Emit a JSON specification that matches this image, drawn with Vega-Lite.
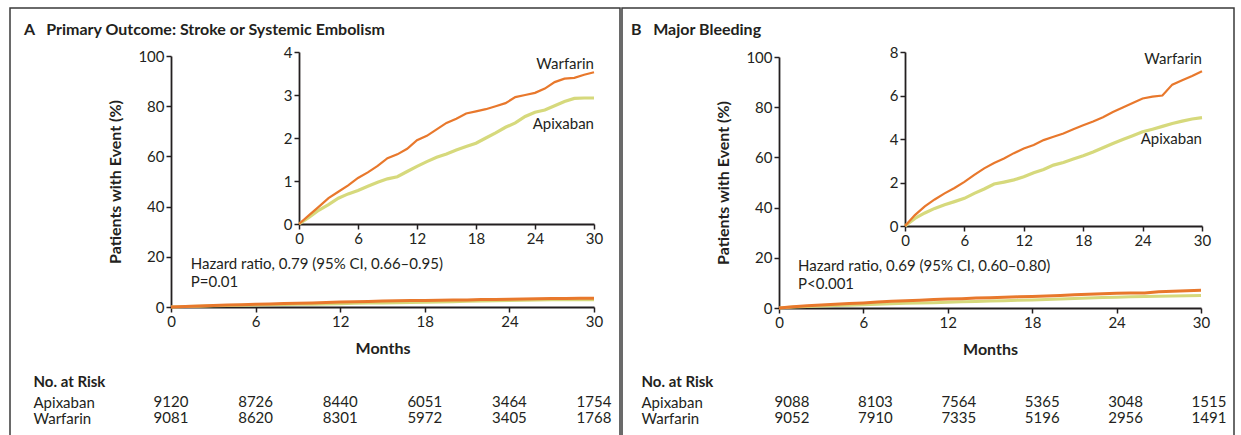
{
  "$schema": "https://vega.github.io/schema/vega-lite/v6.json",
  "background": "white",
  "padding": {"left": 9, "top": 7, "right": 0, "bottom": 0},
  "spacing": 0,
  "config": {
    "view": {"stroke": "#3a3a3a", "strokeWidth": 1.5},
    "font": "Lato",
    "axis": {
      "grid": false,
      "labelFont": "Lato",
      "labelFontSize": 15,
      "labelColor": "#231f20",
      "titleFont": "Lato",
      "titleFontSize": 16,
      "titleFontWeight": "bold",
      "titleColor": "#231f20",
      "domainColor": "#231f20",
      "domainWidth": 1.8,
      "tickColor": "#231f20",
      "tickWidth": 1.5,
      "tickSize": 5,
      "labelPadding": 2,
      "labelFlush": false,
      "labelOverlap": false
    },
    "text": {"font": "Lato", "fontSize": 15, "color": "#231f20"}
  },
  "datasets": {
    "curves": [
      {"panel":"A","arm":"Apixaban","month":0,"pct":0},{"panel":"A","arm":"Apixaban","month":1,"pct":0.15},{"panel":"A","arm":"Apixaban","month":2,"pct":0.32},{"panel":"A","arm":"Apixaban","month":3,"pct":0.45},{"panel":"A","arm":"Apixaban","month":4,"pct":0.6},{"panel":"A","arm":"Apixaban","month":5,"pct":0.7},{"panel":"A","arm":"Apixaban","month":6,"pct":0.78},{"panel":"A","arm":"Apixaban","month":7,"pct":0.88},{"panel":"A","arm":"Apixaban","month":8,"pct":0.97},{"panel":"A","arm":"Apixaban","month":9,"pct":1.05},{"panel":"A","arm":"Apixaban","month":10,"pct":1.1},{"panel":"A","arm":"Apixaban","month":11,"pct":1.22},{"panel":"A","arm":"Apixaban","month":12,"pct":1.34},{"panel":"A","arm":"Apixaban","month":13,"pct":1.45},{"panel":"A","arm":"Apixaban","month":14,"pct":1.55},{"panel":"A","arm":"Apixaban","month":15,"pct":1.63},{"panel":"A","arm":"Apixaban","month":16,"pct":1.72},{"panel":"A","arm":"Apixaban","month":17,"pct":1.8},{"panel":"A","arm":"Apixaban","month":18,"pct":1.88},{"panel":"A","arm":"Apixaban","month":19,"pct":2.0},{"panel":"A","arm":"Apixaban","month":20,"pct":2.12},{"panel":"A","arm":"Apixaban","month":21,"pct":2.25},{"panel":"A","arm":"Apixaban","month":22,"pct":2.35},{"panel":"A","arm":"Apixaban","month":23,"pct":2.5},{"panel":"A","arm":"Apixaban","month":24,"pct":2.6},{"panel":"A","arm":"Apixaban","month":25,"pct":2.65},{"panel":"A","arm":"Apixaban","month":26,"pct":2.75},{"panel":"A","arm":"Apixaban","month":27,"pct":2.85},{"panel":"A","arm":"Apixaban","month":28,"pct":2.92},{"panel":"A","arm":"Apixaban","month":29,"pct":2.93},{"panel":"A","arm":"Apixaban","month":30,"pct":2.93},
      {"panel":"A","arm":"Warfarin","month":0,"pct":0},{"panel":"A","arm":"Warfarin","month":1,"pct":0.2},{"panel":"A","arm":"Warfarin","month":2,"pct":0.4},{"panel":"A","arm":"Warfarin","month":3,"pct":0.6},{"panel":"A","arm":"Warfarin","month":4,"pct":0.75},{"panel":"A","arm":"Warfarin","month":5,"pct":0.9},{"panel":"A","arm":"Warfarin","month":6,"pct":1.07},{"panel":"A","arm":"Warfarin","month":7,"pct":1.2},{"panel":"A","arm":"Warfarin","month":8,"pct":1.35},{"panel":"A","arm":"Warfarin","month":9,"pct":1.53},{"panel":"A","arm":"Warfarin","month":10,"pct":1.62},{"panel":"A","arm":"Warfarin","month":11,"pct":1.75},{"panel":"A","arm":"Warfarin","month":12,"pct":1.95},{"panel":"A","arm":"Warfarin","month":13,"pct":2.05},{"panel":"A","arm":"Warfarin","month":14,"pct":2.2},{"panel":"A","arm":"Warfarin","month":15,"pct":2.35},{"panel":"A","arm":"Warfarin","month":16,"pct":2.45},{"panel":"A","arm":"Warfarin","month":17,"pct":2.57},{"panel":"A","arm":"Warfarin","month":18,"pct":2.62},{"panel":"A","arm":"Warfarin","month":19,"pct":2.67},{"panel":"A","arm":"Warfarin","month":20,"pct":2.74},{"panel":"A","arm":"Warfarin","month":21,"pct":2.81},{"panel":"A","arm":"Warfarin","month":22,"pct":2.95},{"panel":"A","arm":"Warfarin","month":23,"pct":3.0},{"panel":"A","arm":"Warfarin","month":24,"pct":3.05},{"panel":"A","arm":"Warfarin","month":25,"pct":3.15},{"panel":"A","arm":"Warfarin","month":26,"pct":3.3},{"panel":"A","arm":"Warfarin","month":27,"pct":3.38},{"panel":"A","arm":"Warfarin","month":28,"pct":3.4},{"panel":"A","arm":"Warfarin","month":29,"pct":3.47},{"panel":"A","arm":"Warfarin","month":30,"pct":3.53},
      {"panel":"B","arm":"Apixaban","month":0,"pct":0},{"panel":"B","arm":"Apixaban","month":1,"pct":0.35},{"panel":"B","arm":"Apixaban","month":2,"pct":0.6},{"panel":"B","arm":"Apixaban","month":3,"pct":0.81},{"panel":"B","arm":"Apixaban","month":4,"pct":0.98},{"panel":"B","arm":"Apixaban","month":5,"pct":1.12},{"panel":"B","arm":"Apixaban","month":6,"pct":1.27},{"panel":"B","arm":"Apixaban","month":7,"pct":1.5},{"panel":"B","arm":"Apixaban","month":8,"pct":1.7},{"panel":"B","arm":"Apixaban","month":9,"pct":1.93},{"panel":"B","arm":"Apixaban","month":10,"pct":2.02},{"panel":"B","arm":"Apixaban","month":11,"pct":2.12},{"panel":"B","arm":"Apixaban","month":12,"pct":2.26},{"panel":"B","arm":"Apixaban","month":13,"pct":2.45},{"panel":"B","arm":"Apixaban","month":14,"pct":2.6},{"panel":"B","arm":"Apixaban","month":15,"pct":2.8},{"panel":"B","arm":"Apixaban","month":16,"pct":2.92},{"panel":"B","arm":"Apixaban","month":17,"pct":3.08},{"panel":"B","arm":"Apixaban","month":18,"pct":3.23},{"panel":"B","arm":"Apixaban","month":19,"pct":3.4},{"panel":"B","arm":"Apixaban","month":20,"pct":3.6},{"panel":"B","arm":"Apixaban","month":21,"pct":3.79},{"panel":"B","arm":"Apixaban","month":22,"pct":3.98},{"panel":"B","arm":"Apixaban","month":23,"pct":4.15},{"panel":"B","arm":"Apixaban","month":24,"pct":4.33},{"panel":"B","arm":"Apixaban","month":25,"pct":4.45},{"panel":"B","arm":"Apixaban","month":26,"pct":4.58},{"panel":"B","arm":"Apixaban","month":27,"pct":4.71},{"panel":"B","arm":"Apixaban","month":28,"pct":4.82},{"panel":"B","arm":"Apixaban","month":29,"pct":4.92},{"panel":"B","arm":"Apixaban","month":30,"pct":4.98},
      {"panel":"B","arm":"Warfarin","month":0,"pct":0},{"panel":"B","arm":"Warfarin","month":1,"pct":0.5},{"panel":"B","arm":"Warfarin","month":2,"pct":0.9},{"panel":"B","arm":"Warfarin","month":3,"pct":1.22},{"panel":"B","arm":"Warfarin","month":4,"pct":1.5},{"panel":"B","arm":"Warfarin","month":5,"pct":1.75},{"panel":"B","arm":"Warfarin","month":6,"pct":2.03},{"panel":"B","arm":"Warfarin","month":7,"pct":2.35},{"panel":"B","arm":"Warfarin","month":8,"pct":2.65},{"panel":"B","arm":"Warfarin","month":9,"pct":2.9},{"panel":"B","arm":"Warfarin","month":10,"pct":3.1},{"panel":"B","arm":"Warfarin","month":11,"pct":3.35},{"panel":"B","arm":"Warfarin","month":12,"pct":3.56},{"panel":"B","arm":"Warfarin","month":13,"pct":3.72},{"panel":"B","arm":"Warfarin","month":14,"pct":3.95},{"panel":"B","arm":"Warfarin","month":15,"pct":4.1},{"panel":"B","arm":"Warfarin","month":16,"pct":4.25},{"panel":"B","arm":"Warfarin","month":17,"pct":4.45},{"panel":"B","arm":"Warfarin","month":18,"pct":4.63},{"panel":"B","arm":"Warfarin","month":19,"pct":4.8},{"panel":"B","arm":"Warfarin","month":20,"pct":5.0},{"panel":"B","arm":"Warfarin","month":21,"pct":5.24},{"panel":"B","arm":"Warfarin","month":22,"pct":5.45},{"panel":"B","arm":"Warfarin","month":23,"pct":5.65},{"panel":"B","arm":"Warfarin","month":24,"pct":5.86},{"panel":"B","arm":"Warfarin","month":25,"pct":5.95},{"panel":"B","arm":"Warfarin","month":26,"pct":6.0},{"panel":"B","arm":"Warfarin","month":27,"pct":6.5},{"panel":"B","arm":"Warfarin","month":28,"pct":6.7},{"panel":"B","arm":"Warfarin","month":29,"pct":6.9},{"panel":"B","arm":"Warfarin","month":30,"pct":7.12}
    ],
    "risk": [
      {"panel":"A","arm":"Apixaban","month":0,"n":"9120"},{"panel":"A","arm":"Apixaban","month":6,"n":"8726"},{"panel":"A","arm":"Apixaban","month":12,"n":"8440"},{"panel":"A","arm":"Apixaban","month":18,"n":"6051"},{"panel":"A","arm":"Apixaban","month":24,"n":"3464"},{"panel":"A","arm":"Apixaban","month":30,"n":"1754"},
      {"panel":"A","arm":"Warfarin","month":0,"n":"9081"},{"panel":"A","arm":"Warfarin","month":6,"n":"8620"},{"panel":"A","arm":"Warfarin","month":12,"n":"8301"},{"panel":"A","arm":"Warfarin","month":18,"n":"5972"},{"panel":"A","arm":"Warfarin","month":24,"n":"3405"},{"panel":"A","arm":"Warfarin","month":30,"n":"1768"},
      {"panel":"B","arm":"Apixaban","month":0,"n":"9088"},{"panel":"B","arm":"Apixaban","month":6,"n":"8103"},{"panel":"B","arm":"Apixaban","month":12,"n":"7564"},{"panel":"B","arm":"Apixaban","month":18,"n":"5365"},{"panel":"B","arm":"Apixaban","month":24,"n":"3048"},{"panel":"B","arm":"Apixaban","month":30,"n":"1515"},
      {"panel":"B","arm":"Warfarin","month":0,"n":"9052"},{"panel":"B","arm":"Warfarin","month":6,"n":"7910"},{"panel":"B","arm":"Warfarin","month":12,"n":"7335"},{"panel":"B","arm":"Warfarin","month":18,"n":"5196"},{"panel":"B","arm":"Warfarin","month":24,"n":"2956"},{"panel":"B","arm":"Warfarin","month":30,"n":"1491"}
    ],
    "labels": [
      {"panel":"A","arm":"Warfarin","month":30,"pct":3.72},
      {"panel":"A","arm":"Apixaban","month":30,"pct":2.33},
      {"panel":"B","arm":"Warfarin","month":30,"pct":7.68},
      {"panel":"B","arm":"Apixaban","month":30,"pct":4.0}
    ],
    "notes": [
      {"panel":"A","month":1.4,"pct":17,"text":"Hazard ratio, 0.79 (95% CI, 0.66–0.95)"},
      {"panel":"A","month":1.4,"pct":10,"text":"P=0.01"},
      {"panel":"B","month":1.35,"pct":16.7,"text":"Hazard ratio, 0.69 (95% CI, 0.60–0.80)"},
      {"panel":"B","month":1.35,"pct":9.6,"text":"P<0.001"}
    ]
  },
  "hconcat": [
    {
      "width": 610,
      "height": 440,
      "title": {"text": "A\u00a0\u00a0 Primary Outcome: Stroke or Systemic Embolism", "anchor": "start", "frame": "group", "offset": -30, "dx": 14, "font": "Lato", "fontSize": 16, "fontWeight": "bold", "color": "#231f20"},
      "resolve": {"scale": {"x": "independent", "y": "independent"}, "axis": {"x": "independent", "y": "independent"}},
      "layer": [
        {
          "data": {"name": "curves"},
          "transform": [{"filter": "datum.panel == 'A'"}],
          "mark": {"type": "line", "strokeWidth": 3},
          "encoding": {
            "x": {"field": "month", "type": "quantitative", "scale": {"domain": [0, 30], "range": [161, 584], "nice": false, "zero": false}, "axis": {"orient": "bottom", "offset": -141, "values": [0, 6, 12, 18, 24, 30], "title": "Months", "titlePadding": 11}},
            "y": {"field": "pct", "type": "quantitative", "scale": {"domain": [0, 100], "range": [299, 48], "nice": false, "zero": false}, "axis": {"orient": "left", "offset": -161, "values": [0, 20, 40, 60, 80, 100], "title": "Patients with Event (%)", "titlePadding": 14}},
            "color": {"field": "arm", "type": "nominal", "scale": {"domain": ["Apixaban", "Warfarin"], "range": ["#D6D97C", "#E8782C"]}, "legend": null}
          }
        },
        {
          "data": {"name": "notes"},
          "transform": [{"filter": "datum.panel == 'A'"}],
          "mark": {"type": "text", "align": "left", "baseline": "middle", "fontSize": 15},
          "encoding": {
            "x": {"field": "month", "type": "quantitative", "scale": {"domain": [0, 30], "range": [161, 584], "nice": false, "zero": false}, "axis": null},
            "y": {"field": "pct", "type": "quantitative", "scale": {"domain": [0, 100], "range": [299, 48], "nice": false, "zero": false}, "axis": null},
            "text": {"field": "text"}
          }
        },
        {
          "data": {"name": "curves"},
          "transform": [{"filter": "datum.panel == 'A'"}],
          "mark": {"type": "line"},
          "encoding": {
            "x": {"field": "month", "type": "quantitative", "scale": {"domain": [0, 30], "range": [289, 584], "nice": false, "zero": false}, "axis": {"orient": "bottom", "offset": -224, "values": [0, 6, 12, 18, 24, 30], "title": null}},
            "y": {"field": "pct", "type": "quantitative", "scale": {"domain": [0, 4], "range": [216, 44], "nice": false, "zero": false}, "axis": {"orient": "left", "offset": -289, "values": [0, 1, 2, 3, 4], "title": null}},
            "color": {"field": "arm", "type": "nominal", "scale": {"domain": ["Apixaban", "Warfarin"], "range": ["#D6D97C", "#E8782C"]}, "legend": null},
            "strokeWidth": {"field": "arm", "type": "nominal", "scale": {"domain": ["Apixaban", "Warfarin"], "range": [3.2, 2.2]}, "legend": null}
          }
        },
        {
          "data": {"name": "labels"},
          "transform": [{"filter": "datum.panel == 'A'"}],
          "mark": {"type": "text", "align": "right", "baseline": "middle", "fontSize": 15},
          "encoding": {
            "x": {"field": "month", "type": "quantitative", "scale": {"domain": [0, 30], "range": [289, 584], "nice": false, "zero": false}, "axis": null},
            "y": {"field": "pct", "type": "quantitative", "scale": {"domain": [0, 4], "range": [216, 44], "nice": false, "zero": false}, "axis": null},
            "text": {"field": "arm"}
          }
        },
        {
          "data": {"name": "risk"},
          "transform": [{"filter": "datum.panel == 'A'"}],
          "mark": {"type": "text", "align": "center", "baseline": "middle", "fontSize": 15},
          "encoding": {
            "x": {"field": "month", "type": "quantitative", "scale": {"domain": [0, 30], "range": [161, 584], "nice": false, "zero": false}, "axis": null},
            "y": {"field": "arm", "type": "nominal", "scale": {"type": "point", "domain": ["Apixaban", "Warfarin"], "range": [394, 410], "padding": 0}, "axis": {"orient": "left", "offset": -23, "ticks": false, "tickSize": 0, "domain": false, "labelAlign": "left", "labelPadding": 0, "labelFontSize": 15, "title": "No. at Risk", "titleAngle": 0, "titleAlign": "left", "titleBaseline": "middle", "titleX": 0, "titleY": 373, "titleFontSize": 15}},
            "text": {"field": "n"}
          }
        }
      ]
    },
    {
      "width": 612,
      "height": 440,
      "title": {"text": "B\u00a0\u00a0 Major Bleeding", "anchor": "start", "frame": "group", "offset": -30, "dx": 9, "font": "Lato", "fontSize": 16, "fontWeight": "bold", "color": "#231f20"},
      "resolve": {"scale": {"x": "independent", "y": "independent"}, "axis": {"x": "independent", "y": "independent"}},
      "layer": [
        {
          "data": {"name": "curves"},
          "transform": [{"filter": "datum.panel == 'B'"}],
          "mark": {"type": "line", "strokeWidth": 3},
          "encoding": {
            "x": {"field": "month", "type": "quantitative", "scale": {"domain": [0, 30], "range": [157, 579], "nice": false, "zero": false}, "axis": {"orient": "bottom", "offset": -140, "values": [0, 6, 12, 18, 24, 30], "title": "Months", "titlePadding": 11}},
            "y": {"field": "pct", "type": "quantitative", "scale": {"domain": [0, 100], "range": [300, 49], "nice": false, "zero": false}, "axis": {"orient": "left", "offset": -157, "values": [0, 20, 40, 60, 80, 100], "title": "Patients with Event (%)", "titlePadding": 14}},
            "color": {"field": "arm", "type": "nominal", "scale": {"domain": ["Apixaban", "Warfarin"], "range": ["#D6D97C", "#E8782C"]}, "legend": null}
          }
        },
        {
          "data": {"name": "notes"},
          "transform": [{"filter": "datum.panel == 'B'"}],
          "mark": {"type": "text", "align": "left", "baseline": "middle", "fontSize": 15},
          "encoding": {
            "x": {"field": "month", "type": "quantitative", "scale": {"domain": [0, 30], "range": [157, 579], "nice": false, "zero": false}, "axis": null},
            "y": {"field": "pct", "type": "quantitative", "scale": {"domain": [0, 100], "range": [300, 49], "nice": false, "zero": false}, "axis": null},
            "text": {"field": "text"}
          }
        },
        {
          "data": {"name": "curves"},
          "transform": [{"filter": "datum.panel == 'B'"}],
          "mark": {"type": "line"},
          "encoding": {
            "x": {"field": "month", "type": "quantitative", "scale": {"domain": [0, 30], "range": [283, 580], "nice": false, "zero": false}, "axis": {"orient": "bottom", "offset": -222, "values": [0, 6, 12, 18, 24, 30], "title": null}},
            "y": {"field": "pct", "type": "quantitative", "scale": {"domain": [0, 8], "range": [218, 44], "nice": false, "zero": false}, "axis": {"orient": "left", "offset": -283, "values": [0, 2, 4, 6, 8], "title": null}},
            "color": {"field": "arm", "type": "nominal", "scale": {"domain": ["Apixaban", "Warfarin"], "range": ["#D6D97C", "#E8782C"]}, "legend": null},
            "strokeWidth": {"field": "arm", "type": "nominal", "scale": {"domain": ["Apixaban", "Warfarin"], "range": [3.2, 2.2]}, "legend": null}
          }
        },
        {
          "data": {"name": "labels"},
          "transform": [{"filter": "datum.panel == 'B'"}],
          "mark": {"type": "text", "align": "right", "baseline": "middle", "fontSize": 15},
          "encoding": {
            "x": {"field": "month", "type": "quantitative", "scale": {"domain": [0, 30], "range": [283, 580], "nice": false, "zero": false}, "axis": null},
            "y": {"field": "pct", "type": "quantitative", "scale": {"domain": [0, 8], "range": [218, 44], "nice": false, "zero": false}, "axis": null},
            "text": {"field": "arm"}
          }
        },
        {
          "data": {"name": "risk"},
          "transform": [{"filter": "datum.panel == 'B'"}],
          "mark": {"type": "text", "align": "center", "baseline": "middle", "fontSize": 15},
          "encoding": {
            "x": {"field": "month", "type": "quantitative", "scale": {"domain": [0, 30], "range": [170, 587], "nice": false, "zero": false}, "axis": null},
            "y": {"field": "arm", "type": "nominal", "scale": {"type": "point", "domain": ["Apixaban", "Warfarin"], "range": [394, 410], "padding": 0}, "axis": {"orient": "left", "offset": -19, "ticks": false, "tickSize": 0, "domain": false, "labelAlign": "left", "labelPadding": 0, "labelFontSize": 15, "title": "No. at Risk", "titleAngle": 0, "titleAlign": "left", "titleBaseline": "middle", "titleX": 0, "titleY": 373, "titleFontSize": 15}},
            "text": {"field": "n"}
          }
        }
      ]
    }
  ]
}
